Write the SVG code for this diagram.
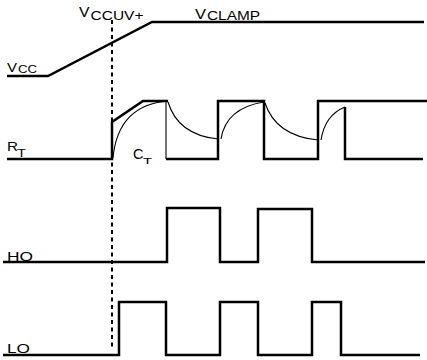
<svg xmlns="http://www.w3.org/2000/svg" width="427" height="360" viewBox="0 0 427 360">
<style>
.thick{fill:none;stroke:#000;stroke-width:2.5;stroke-linejoin:miter;stroke-linecap:butt}
.thin{fill:none;stroke:#000;stroke-width:1.1}
.dash{fill:none;stroke:#000;stroke-width:2;stroke-dasharray:4,3.5}
text{font-family:"Liberation Sans",Arial,sans-serif;fill:#000}
</style>
<rect width="427" height="360" fill="#fff"/>
<g id="labels">
<g id="vcc-label"><text x="7" y="72" font-size="13" textLength="10" lengthAdjust="spacingAndGlyphs">V</text><text x="18" y="73" font-size="10" textLength="19" lengthAdjust="spacingAndGlyphs">CC</text></g>
<g id="vccuv-label"><text x="79" y="17" font-size="14" textLength="10.5" lengthAdjust="spacingAndGlyphs">V</text><text x="90.5" y="20" font-size="12" textLength="53" lengthAdjust="spacingAndGlyphs">CCUV+</text></g>
<g id="vclamp-label"><text x="195" y="19" font-size="14" textLength="11" lengthAdjust="spacingAndGlyphs">V</text><text x="207" y="20" font-size="12" textLength="53" lengthAdjust="spacingAndGlyphs">CLAMP</text></g>
<g id="rt-label"><text x="7" y="151" font-size="13" textLength="11" lengthAdjust="spacingAndGlyphs">R</text><text x="17" y="157" font-size="10" textLength="9" lengthAdjust="spacingAndGlyphs">T</text></g>
<g id="ct-label"><text x="133" y="159" font-size="14" textLength="10.5" lengthAdjust="spacingAndGlyphs">C</text><text x="143" y="164" font-size="9" textLength="9" lengthAdjust="spacingAndGlyphs">T</text></g>
<g id="ho-label"><text x="7" y="260.5" font-size="12" textLength="26" lengthAdjust="spacingAndGlyphs">HO</text></g>
<g id="lo-label"><text x="7" y="353" font-size="13" textLength="23" lengthAdjust="spacingAndGlyphs">LO</text></g>
</g>
<g id="connectors">
<line id="uvlo-marker" class="dash" x1="112" y1="20" x2="112" y2="349"/>
<polyline id="vcc-trace" class="thick" points="7,76 48,76 152,22 424,22"/>
<g id="rt-trace">
<polyline class="thick" points="7,159 112,159 112,122 143,101 168,101"/>
<polyline class="thin" points="166,101 166,159"/>
<polyline class="thick" points="166,159 218,159 218,101 264,101 264,159 318,159 318,101 427,101"/>
<polyline class="thick" points="345,107 345,159 423,159"/>
</g>
<g id="ct-trace">
<path class="thin" d="M113,158 Q118,105 168,101"/>
<path class="thin" d="M168,102 Q178,135 218,139"/>
<path class="thin" d="M221,139 Q226,108 264,102"/>
<path class="thin" d="M265,103 Q276,136 318,140"/>
<path class="thin" d="M321,140 Q325,115 345,107"/>
</g>
<polyline id="ho-trace" class="thick" points="3,262 167,262 167,208 220,208 220,262 258,262 258,209 312,209 312,262 425,262"/>
<polyline id="lo-trace" class="thick" points="3,355 119,355 119,302 166,302 166,355 220,355 220,302 258,302 258,355 312,355 312,302 341,302 341,355 420,355"/>
</g>
</svg>
